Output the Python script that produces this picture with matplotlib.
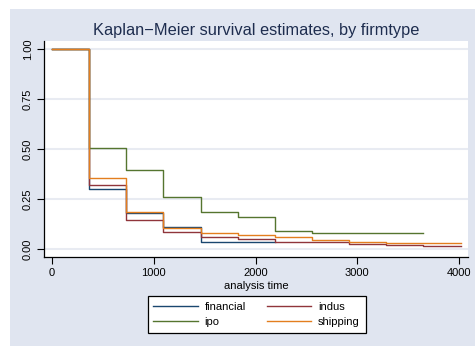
import matplotlib
matplotlib.use("Agg")
import matplotlib.pyplot as plt
from matplotlib.lines import Line2D
from matplotlib.patches import Rectangle

plt.rcParams['font.family'] = ['Liberation Sans', 'DejaVu Sans']

# Kaplan-Meier step functions (time in days, survivor function)
fin_t = [0, 365, 730, 1095, 1460, 2190]
fin_s = [1.0, 0.30, 0.18, 0.108, 0.035, 0.035]

ind_t = [0, 365, 730, 1095, 1460, 1825, 2190, 2920, 3285, 3650, 4020]
ind_s = [1.0, 0.318, 0.147, 0.085, 0.060, 0.050, 0.035, 0.026, 0.021, 0.014, 0.014]

ipo_t = [0, 365, 730, 1095, 1460, 1825, 2190, 2555, 3650]
ipo_s = [1.0, 0.507, 0.395, 0.258, 0.183, 0.160, 0.090, 0.078, 0.078]

shp_t = [0, 365, 730, 1095, 1460, 1825, 2190, 2555, 2920, 3285, 3650, 4020]
shp_s = [1.0, 0.357, 0.185, 0.104, 0.080, 0.072, 0.059, 0.044, 0.035, 0.030, 0.029, 0.029]

groups = ['financial', 'indus', 'ipo', 'shipping']
colors = ['#1a476f', '#90353b', '#55752f', '#e37e1e']
series = [(fin_t, fin_s), (ind_t, ind_s), (ipo_t, ipo_s), (shp_t, shp_s)]

x_ticks = [0, 1000, 2000, 3000, 4000]
y_ticks = [0.0, 0.25, 0.5, 0.75, 1.0]
y_labels = ['0.00', '0.25', '0.50', '0.75', '1.00']

W, H = 475, 346
fig = plt.figure(figsize=(W / 100, H / 100), dpi=100)
fig.patch.set_facecolor('white')
bg = '#e0e5f0'
fig.patches.append(Rectangle((10 / W, 0), 1 - 10 / W, 1 - 9 / H,
                             transform=fig.transFigure, facecolor=bg,
                             edgecolor='none', zorder=-10))

ax = fig.add_axes([44 / W, (346 - 257) / H, (468 - 44) / W, (257 - 41) / H])
ax.set_facecolor('white')

for (t, s), c, g in zip(series, colors, groups):
    ax.step(t, s, where='post', color=c, lw=1.0, label=g)

ax.set_xlim(-79, 4088)
ax.set_ylim(-0.04, 1.04)
ax.set_xticks(x_ticks)
ax.set_yticks(y_ticks)
ax.set_yticklabels(y_labels, rotation=90, va='center')
ax.tick_params(labelsize=8, length=5, width=0.8, color='black', pad=3)
ax.grid(axis='y', color='#e8ebf2', lw=1.5)
ax.set_axisbelow(True)
for sp in ['top', 'right']:
    ax.spines[sp].set_visible(False)
for sp in ['left', 'bottom']:
    ax.spines[sp].set_linewidth(0.9)

ax.set_xlabel('analysis time', fontsize=8, labelpad=2)
fig.text(256 / W, 1 - 31 / H, 'Kaplan\u2212Meier survival estimates, by firmtype',
         ha='center', va='center', fontsize=11.8, color='#1e2d4f')

# two-column legend laid out row by row: financial, indus / ipo, shipping
order = [0, 2, 1, 3]
handles = [Line2D([], [], color=colors[i], lw=1.0) for i in order]
labels = [groups[i] for i in order]
leg = fig.legend(handles, labels, ncol=2, loc='center',
                 bbox_to_anchor=(256.5 / W, 1 - 314.5 / H),
                 frameon=True, fancybox=False, fontsize=8, framealpha=1,
                 handlelength=4.0, columnspacing=1.85, handletextpad=0.65,
                 labelspacing=0.45, borderpad=0.5, borderaxespad=0)
leg.get_frame().set_edgecolor('black')
leg.get_frame().set_linewidth(0.9)
leg.get_frame().set_facecolor('white')

fig.savefig('out.png', dpi=100, facecolor=fig.get_facecolor())
